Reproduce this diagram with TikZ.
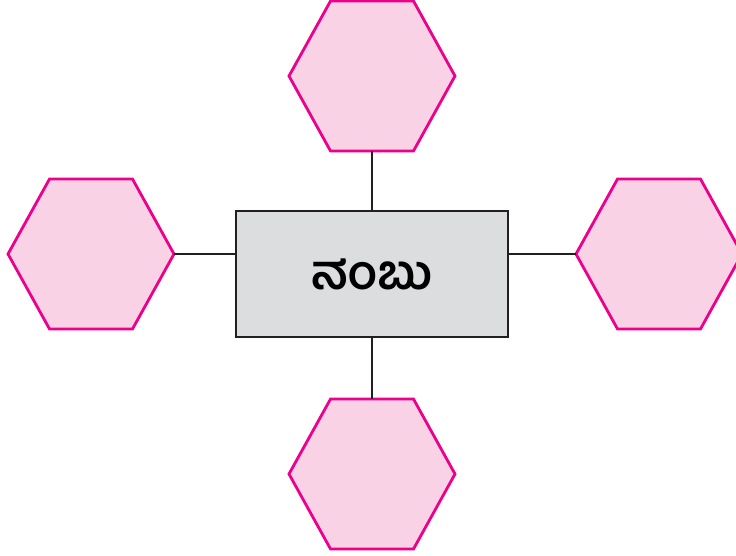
\documentclass[tikz,border=0pt]{standalone}
\usepackage{fontspec}
\newfontfamily\kannadafont[Script=Kannada]{Hind Mysuru}
\usetikzlibrary{shapes.geometric}
\definecolor{hexpink}{HTML}{F9D3E5}
\definecolor{hexline}{HTML}{EC008C}
\definecolor{boxgray}{HTML}{DCDDDF}
\definecolor{inkdark}{HTML}{231F20}

\begin{document}
\begin{tikzpicture}[x=1pt, y=-1pt,
        hexa/.style={regular polygon, regular polygon sides=6, minimum size=166pt,
            inner sep=0pt, outer sep=0pt, yscale=1.043, draw=hexline, fill=hexpink, line width=2.8pt},
        wordbox/.style={rectangle, minimum width=272pt, minimum height=126pt, inner sep=0pt,
            outer sep=0pt, draw=inkdark, fill=boxgray, line width=2.8pt},
        link/.style={draw=inkdark, line width=2.3pt}]
        \useasboundingbox (0,0) rectangle (736,556);
        \node[wordbox] (c) at (372,274) {\raisebox{-2pt}{\kannadafont\bfseries\fontsize{48}{56}\selectfont ನಂಬು}};
        \node[hexa] (t) at (372,76) {};
        \node[hexa] (b) at (372,474) {};
        \node[hexa] (l) at (91,254) {};
        \node[hexa] (r) at (659,254) {};
        \draw[link] (t.south) -- (c.north);
        \draw[link] (c.south) -- (b.north);
        \draw[link] (l.east) -- (l.east -| c.west);
        \draw[link] (r.west -| c.east) -- (r.west);
    \end{tikzpicture}
\end{document}
